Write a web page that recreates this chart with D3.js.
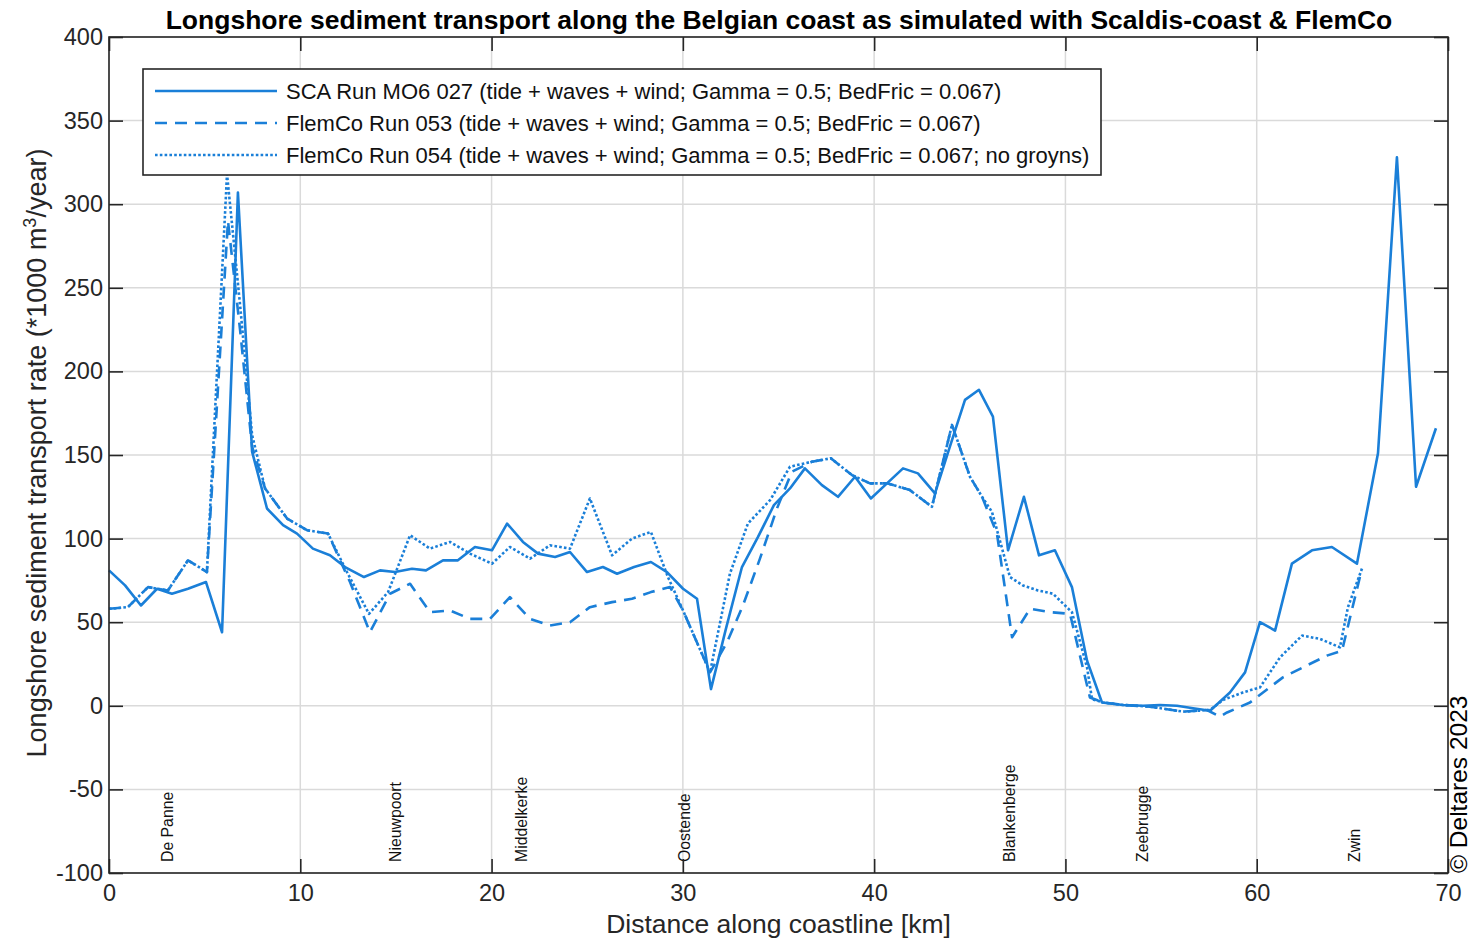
<!DOCTYPE html>
<html>
<head>
<meta charset="utf-8">
<script src="https://cdn.jsdelivr.net/npm/d3@7"></script>
<style>
  body { margin: 0; background: #fff; }
  svg { display: block; font-family: 'Liberation Sans', Arial, sans-serif; }
</style>
</head>
<body>
<div id="chart"></div>
<script>
// SCA Run MO6 027 (solid)
const scaKm = [0, 0.84, 1.67, 2.51, 3.29, 4.13, 5.07, 5.91, 6.74, 7.48, 8.26, 9.10, 9.83, 10.66, 11.55,
  12.34, 13.33, 14.17, 14.95, 15.84, 16.57, 17.46, 18.24, 19.13, 20.02, 20.81, 21.64, 22.43, 23.32,
  24.10, 24.99, 25.82, 26.56, 27.45, 28.33, 29.17, 30.01, 30.74, 31.47, 32.25, 33.09, 33.93, 34.76,
  35.60, 36.38, 37.27, 38.11, 39.00, 39.83, 40.67, 41.51, 42.29, 43.18, 43.96, 44.75, 45.48, 46.21,
  47.00, 47.83, 48.62, 49.45, 50.34, 51.13, 51.91, 53.01, 54.05, 54.94, 55.83, 56.67, 57.56, 58.60,
  59.39, 60.17, 60.96, 61.84, 62.89, 63.93, 65.24, 66.34, 67.33, 68.33, 69.37]
const scaVal = [81, 72, 60, 70, 67, 70, 74, 44, 307, 152, 118, 108, 103, 94, 90,
  83, 77, 81, 80, 82, 81, 87, 87, 95, 93, 109, 98, 91, 89,
  92, 80, 83, 79, 83, 86, 80, 70, 64, 10, 46, 83, 101, 120,
  130, 142, 132, 125, 137, 124, 133, 142, 139, 127, 155, 183, 189, 173,
  93, 125, 90, 93, 71, 27, 2, 0.5, 0, 0.5, 0, -1.5, -3, 8,
  20, 50, 45, 85, 93, 95, 85, 151, 328, 131, 166]

// FlemCo Run 053 (dashed)
const f053Km = [0, 0.99, 2.04, 3.08, 4.13, 5.12, 6.22, 6.85, 7.48, 8.16, 9.31, 10.35, 11.45, 12.60,
  13.64, 14.69, 15.74, 16.78, 17.83, 18.87, 19.92, 20.96, 22.01, 23.05, 24.10, 25.14, 26.30, 27.34,
  28.33, 29.33, 30.01, 31.42, 32.31, 33.14, 34.03, 34.92, 35.70, 36.75, 37.74, 38.84, 39.78, 40.72,
  41.87, 43.02, 44.07, 45.01, 45.64, 46.42, 47.21, 48.15, 49.19, 50.24, 51.28, 51.96, 53.01, 54.42,
  56.15, 57.40, 58.08, 58.45, 59.65, 60.33, 61.37, 62.42, 63.67, 64.46, 65.50]
const f053Val = [58, 59, 71, 69, 87, 80, 290, 225, 155, 130, 112, 105, 103, 74,
  44, 67, 73, 56, 57, 52, 52, 65, 52, 48, 50, 59, 62, 64,
  68, 71, 57, 20, 38, 60, 88, 118, 140, 146, 148, 138, 133, 133,
  129, 119, 168, 137, 125, 103, 41, 58, 56, 55, 5, 2, 0.5, -0.5,
  -3.5, -2.5, -6.5, -4, 2, 8, 17, 23, 30, 33, 82]

// FlemCo Run 054, no groynes (dotted)
const f054Km = [0, 0.99, 2.04, 3.08, 4.13, 5.12, 6.17, 6.85, 7.48, 8.16, 9.31, 10.35, 11.45, 12.44,
  13.59, 14.59, 15.74, 16.78, 17.83, 18.87, 20.02, 20.96, 22.01, 23.05, 24.10, 25.14, 26.30, 27.34,
  28.33, 29.22, 30.01, 31.42, 32.46, 33.40, 34.56, 35.60, 36.75, 37.74, 38.84, 39.78, 40.72, 41.87,
  43.02, 44.07, 45.01, 45.64, 46.16, 47.10, 47.78, 48.56, 49.35, 50.34, 51.13, 51.39, 51.96, 53.01,
  54.42, 56.15, 57.56, 58.24, 59.28, 60.17, 61.22, 62.37, 63.31, 64.35, 64.77, 65.50]
const f054Val = [58, 59, 71, 69, 87, 80, 318, 240, 162, 130, 112, 105, 103, 80,
  55, 68, 102, 94, 98, 91, 85, 95, 88, 96, 94, 124, 90, 100,
  104, 77, 57, 20, 79, 109, 123, 143, 146, 148, 138, 133, 133, 129,
  119, 168, 137, 125, 116, 77, 72, 69, 67, 56, 23, 4, 2, 0.5,
  -0.5, -3.5, -2.5, 3.5, 8, 11, 29, 42, 40, 35, 59, 82]

const legendLabels = [
  'SCA Run MO6 027 (tide + waves + wind; Gamma = 0.5; BedFric = 0.067)',
  'FlemCo Run 053 (tide + waves + wind; Gamma = 0.5; BedFric = 0.067)',
  'FlemCo Run 054 (tide + waves + wind; Gamma = 0.5; BedFric = 0.067; no groyns)'
]

const placeNames = ['De Panne', 'Nieuwpoort', 'Middelkerke', 'Oostende', 'Blankenberge', 'Zeebrugge', 'Zwin']
const placeKm = [3.05, 14.95, 21.55, 30.1, 47.1, 54.05, 65.1]

const xTicks = [0, 10, 20, 30, 40, 50, 60, 70]
const yTicks = [-100, -50, 0, 50, 100, 150, 200, 250, 300, 350, 400]

const W = 1473
const H = 939
const margin = { top: 37, right: 25, bottom: 66, left: 109 }
const iw = W - margin.left - margin.right
const ih = H - margin.top - margin.bottom
const blue = '#1a7fd8'
const axisCol = '#262626'
const gridCol = '#dadada'

const x = d3.scaleLinear().domain([0, 70]).range([0, iw])
const y = d3.scaleLinear().domain([-100, 400]).range([ih, 0])

const series = [
  { km: scaKm, val: scaVal, dash: null, width: 2.6 },
  { km: f053Km, val: f053Val, dash: '12,8', width: 2.6 },
  { km: f054Km, val: f054Val, dash: '2.6,2.2', width: 2.6 }
]

const svg = d3.select('#chart').append('svg').attr('width', W).attr('height', H)
const g = svg.append('g').attr('transform', `translate(${margin.left},${margin.top})`)

// grid
g.append('g')
  .selectAll('line')
  .data(xTicks)
  .join('line')
  .attr('x1', (d) => x(d))
  .attr('x2', (d) => x(d))
  .attr('y1', 0)
  .attr('y2', ih)
  .attr('stroke', gridCol)
  .attr('stroke-width', 1.5)
g.append('g')
  .selectAll('line')
  .data(yTicks)
  .join('line')
  .attr('x1', 0)
  .attr('x2', iw)
  .attr('y1', (d) => y(d))
  .attr('y2', (d) => y(d))
  .attr('stroke', gridCol)
  .attr('stroke-width', 1.5)

// place labels
g.append('g')
  .selectAll('text')
  .data(placeNames)
  .join('text')
  .attr('transform', (d, i) => `translate(${x(placeKm[i])},${ih - 11}) rotate(-90)`)
  .attr('dy', '0.35em')
  .attr('font-size', 15.8)
  .attr('fill', '#111')
  .text((d) => d)

// lines
const line = d3
  .line()
  .x((d) => x(d[0]))
  .y((d) => y(d[1]))

g.append('g')
  .selectAll('path')
  .data(series)
  .join('path')
  .attr('d', (s) => line(s.km.map((k, i) => [k, s.val[i]])))
  .attr('fill', 'none')
  .attr('stroke', blue)
  .attr('stroke-width', (s) => s.width)
  .attr('stroke-dasharray', (s) => s.dash)
  .attr('stroke-linejoin', 'round')

// axes
const styleAxis = (sel) => {
  sel.select('.domain').remove()
  sel.selectAll('.tick line').attr('stroke', axisCol).attr('stroke-width', 1.6)
  sel.selectAll('.tick text').attr('fill', axisCol).attr('font-size', 23.5).attr('font-family', "'Liberation Sans', Arial, sans-serif")
}
g.append('g')
  .attr('transform', `translate(0,${ih})`)
  .call(d3.axisBottom(x).tickValues(xTicks).tickSize(-14).tickPadding(11))
  .call(styleAxis)
g.append('g')
  .call(d3.axisTop(x).tickValues(xTicks).tickSize(-14).tickFormat(''))
  .call(styleAxis)
g.append('g')
  .call(d3.axisLeft(y).tickValues(yTicks).tickSize(-14).tickPadding(6).tickFormat((d) => String(d)))
  .call(styleAxis)
g.append('g')
  .attr('transform', `translate(${iw},0)`)
  .call(d3.axisRight(y).tickValues(yTicks).tickSize(-14).tickFormat(''))
  .call(styleAxis)

g.append('rect')
  .attr('width', iw)
  .attr('height', ih)
  .attr('fill', 'none')
  .attr('stroke', axisCol)
  .attr('stroke-width', 1.6)

// legend
const leg = g.append('g').attr('transform', 'translate(34,32)')
leg.append('rect')
  .attr('width', 958)
  .attr('height', 106)
  .attr('fill', '#fff')
  .attr('stroke', axisCol)
  .attr('stroke-width', 1.6)
const items = leg
  .selectAll('g.item')
  .data(series)
  .join('g')
  .attr('class', 'item')
  .attr('transform', (d, i) => `translate(0,${22 + i * 32})`)
items.append('line')
  .attr('x1', 12)
  .attr('x2', 134)
  .attr('stroke', blue)
  .attr('stroke-width', (s) => s.width)
  .attr('stroke-dasharray', (s) => s.dash)
items.append('text')
  .attr('x', 143)
  .attr('dy', '0.35em')
  .attr('font-size', 22)
  .attr('fill', '#111')
  .text((d, i) => legendLabels[i])

// titles
svg.append('text')
  .attr('x', margin.left + iw / 2 + 0.5)
  .attr('y', 29)
  .attr('text-anchor', 'middle')
  .attr('font-size', 26.5)
  .attr('font-weight', 'bold')
  .attr('fill', '#000')
  .text('Longshore sediment transport along the Belgian coast as simulated with Scaldis-coast & FlemCo')

svg.append('text')
  .attr('x', margin.left + iw / 2)
  .attr('y', 933)
  .attr('text-anchor', 'middle')
  .attr('font-size', 26.5)
  .attr('fill', axisCol)
  .text('Distance along coastline [km]')

const yl = svg.append('text')
  .attr('transform', `translate(46,${margin.top + ih / 2 - 2}) rotate(-90)`)
  .attr('text-anchor', 'middle')
  .attr('font-size', 27)
  .attr('fill', axisCol)
yl.append('tspan').text('Longshore sediment transport rate (*1000 m')
yl.append('tspan').attr('font-size', 18).attr('dy', -10).text('3')
yl.append('tspan').attr('dy', 10).text('/year)')

svg.append('text')
  .attr('transform', `translate(1473,${margin.top + ih}) rotate(-90)`)
  .attr('dy', '-0.25em')
  .attr('font-size', 24.5)
  .attr('fill', '#000')
  .text('© Deltares 2023')
</script>
</body>
</html>
